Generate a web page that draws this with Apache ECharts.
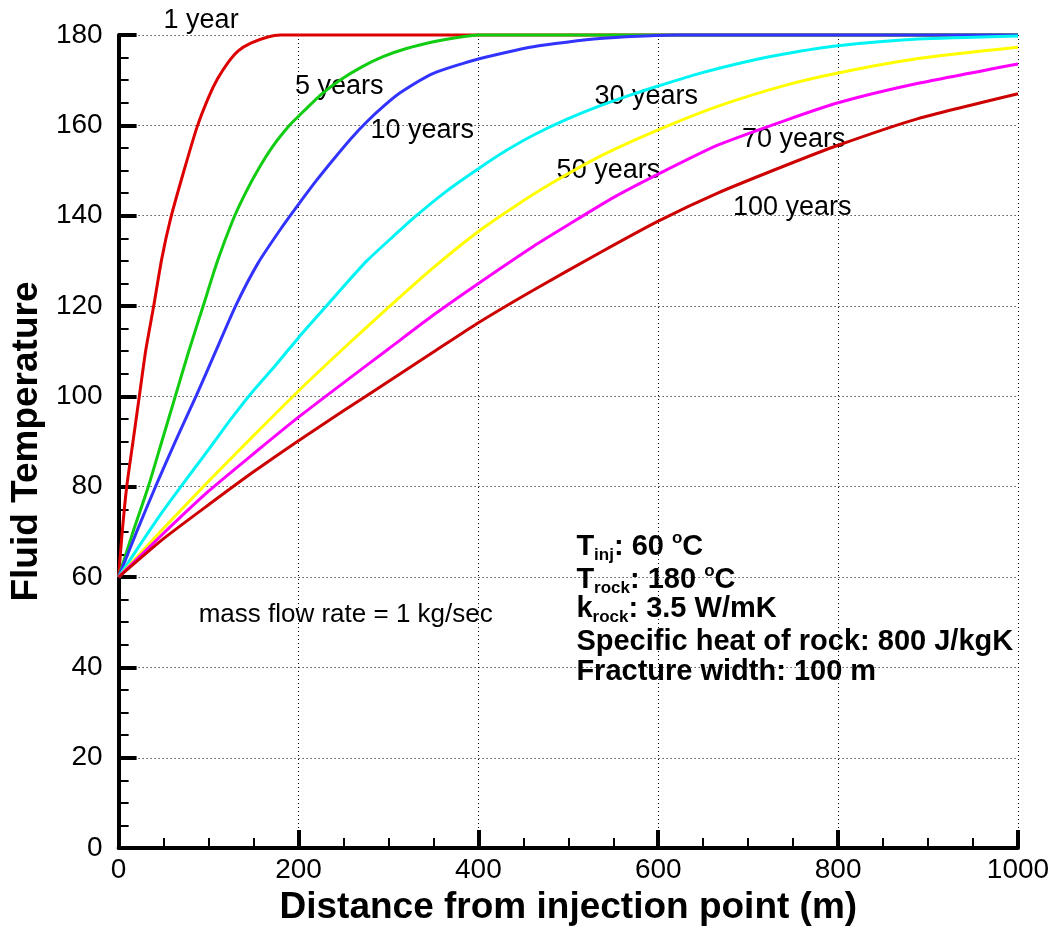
<!DOCTYPE html>
<html>
<head>
<meta charset="utf-8">
<title>Fluid temperature vs distance</title>
<script src="https://cdn.jsdelivr.net/npm/echarts@6/dist/echarts.min.js"></script>
<style>
  html, body { margin: 0; padding: 0; background: #fff; }
  #main { width: 1054px; height: 931px; }
</style>
</head>
<body>
<div id="main"></div>
<script>
// distance along fracture (m) / fluid temperature (C)
var year1Dist = [0, 4, 9, 16, 23, 30, 39, 48, 58, 72, 87, 100, 110, 122, 133, 147, 165, 180, 300, 1000];
var year1Temp = [60, 70, 80, 90, 100, 110, 120, 130.5, 139.5, 149.5, 159.5, 166.2, 170.3, 174, 176.5, 178.2, 179.5, 180, 180, 180];

var year5Dist = [0, 16, 33, 48, 63, 78, 94, 110, 127, 141, 156, 172, 190, 200, 225, 246, 270, 294, 320, 350, 375, 400, 600, 1000];
var year5Temp = [60, 70, 80, 90, 100, 110, 120, 130, 139, 145, 150.5, 155.5, 160, 162, 166.8, 170, 172.9, 175.2, 177, 178.5, 179.4, 180, 180, 180];

var year10Dist = [0, 20, 41, 63, 86, 108, 130, 155, 180, 200, 220, 239, 258, 276, 295, 313, 350, 400, 461, 535, 620, 800, 1000];
var year10Temp = [60, 70, 80, 90, 100, 110, 120, 129.5, 137, 142.5, 147.8, 152.5, 157, 160.8, 164.3, 167.2, 171.5, 174.7, 177.4, 179.2, 180, 180, 180];

var year30Dist = [0, 25, 50, 74, 100, 125, 147, 175, 200, 231, 253, 276, 303, 331, 365, 400, 430, 461, 498, 535, 572, 600, 646, 700, 740, 800, 889, 1000];
var year30Temp = [60, 67.5, 74.8, 81.3, 88.2, 95, 100.6, 107, 113, 120, 125, 130, 135, 140, 145.5, 150.4, 154.3, 157.8, 161.3, 164.3, 166.9, 168.7, 171.5, 174.2, 175.8, 177.6, 179.1, 179.8];

var year50Dist = [0, 50, 100, 150, 200, 250, 300, 350, 400, 440, 480, 539, 600, 666, 740, 800, 889, 1000];
var year50Temp = [60, 70.8, 81.2, 91.3, 101.2, 110.6, 119.7, 128.5, 136.5, 142, 147, 153.5, 159, 164.2, 168.8, 171.6, 174.8, 177.3];

var year70Dist = [0, 50, 100, 150, 200, 250, 300, 350, 400, 461, 500, 550, 600, 666, 740, 800, 889, 1000];
var year70Temp = [60, 69.7, 79, 87.3, 95.4, 103, 110.5, 118, 125, 133.2, 138, 144, 149.2, 155.6, 161, 165, 169.3, 173.6];

var year100Dist = [0, 50, 100, 150, 200, 250, 300, 350, 400, 461, 535, 600, 666, 740, 800, 889, 1000];
var year100Temp = [60, 68.5, 76, 83.3, 90.2, 96.8, 103.3, 109.8, 116.3, 123.5, 131.8, 138.8, 145, 151, 155.6, 161.5, 167];

var curveNames = ['1 year', '5 years', '10 years', '30 years', '50 years', '70 years', '100 years'];
var curveDists = [year1Dist, year5Dist, year10Dist, year30Dist, year50Dist, year70Dist, year100Dist];
var curveTemps = [year1Temp, year5Temp, year10Temp, year30Temp, year50Temp, year70Temp, year100Temp];
var curveColors = ['#dd0000', '#11cc11', '#3333ff', '#00f4f4', '#ffff00', '#ff00ff', '#cc0000'];

var FONT = '"Liberation Sans", Arial, Helvetica, sans-serif';

function zip(xs, ys) {
    var out = [];
    for (var i = 0; i < xs.length; i++) out.push([xs[i], ys[i]]);
    return out;
}

var chart = echarts.init(document.getElementById('main'), null, { renderer: 'canvas' });

var series = curveNames.map(function (name, i) {
    return {
        name: name,
        type: 'line',
        data: zip(curveDists[i], curveTemps[i]),
        showSymbol: false,
        symbol: 'none',
        smooth: 0.2,
        clip: false,
        lineStyle: { color: curveColors[i], width: 3 },
        itemStyle: { color: curveColors[i] },
        silent: true
    };
});

var dotted = { color: '#000', width: 1, type: [1, 3] };

chart.setOption({
    animation: false,
    backgroundColor: '#fff',
    grid: { left: 118, right: 36, top: 35, bottom: 78 },
    xAxis: {
        type: 'value',
        min: 0, max: 1000, interval: 200,
        name: 'Distance from injection point (m)',
        nameLocation: 'middle',
        nameGap: 40,
        nameTextStyle: { color: '#000', fontSize: 37, fontWeight: 'bold', fontFamily: FONT },
        axisLine: { lineStyle: { color: '#000', width: 4 } },
        axisTick: { inside: true, length: 18, lineStyle: { color: '#000', width: 4 } },
        minorTick: { show: true, splitNumber: 4, length: 10, lineStyle: { color: '#000', width: 2 } },
        splitLine: { show: true, lineStyle: dotted },
        axisLabel: { color: '#000', fontSize: 28, fontFamily: FONT, margin: 8, formatter: function (v) { return String(v); } }
    },
    yAxis: {
        type: 'value',
        min: 0, max: 180, interval: 20,
        name: 'Fluid Temperature',
        nameLocation: 'middle',
        nameGap: 68,
        nameTextStyle: { color: '#000', fontSize: 37, fontWeight: 'bold', fontFamily: FONT },
        axisLine: { lineStyle: { color: '#000', width: 4 } },
        axisTick: { inside: true, length: 18, lineStyle: { color: '#000', width: 4 } },
        minorTick: { show: true, splitNumber: 4, length: 10, lineStyle: { color: '#000', width: 2 } },
        splitLine: { show: true, lineStyle: dotted },
        axisLabel: { color: '#000', fontSize: 28, fontFamily: FONT, margin: 16 }
    },
    series: series
});

// annotations, anchored at data coordinates (distance, temperature) -> left-middle of the text
var curveLabelAt = [[50, 183.3], [196, 168.6], [280, 158.9], [529, 166.4], [487, 150.1], [693, 156.9], [683, 141.7]];
var noteAt = [89, 51.7];
var paramsAt = [509, [66.7, 59.4, 53.0, 45.6, 39.0]];

var paramLines = [
    '{b|T}{sub|inj}{b|: 60 }{sup|o}{b|C}',
    '{b|T}{sub|rock}{b|: 180 }{sup|o}{b|C}',
    '{b|k}{sub|rock}{b|: 3.5 W/mK}',
    '{b|Specific heat of rock: 800 J/kgK}',
    '{b|Fracture width: 100 m}'
];

function px(p) { return chart.convertToPixel({ gridIndex: 0 }, p); }

var graphics = [];
curveNames.forEach(function (name, i) {
    var p = px(curveLabelAt[i]);
    graphics.push({
        type: 'text', x: p[0], y: p[1], silent: true,
        style: { text: name, fill: '#000', font: '27px ' + FONT, textAlign: 'left', textVerticalAlign: 'middle' }
    });
});

var n = px(noteAt);
graphics.push({
    type: 'text', x: n[0], y: n[1], silent: true,
    style: { text: 'mass flow rate = 1 kg/sec', fill: '#000', font: '26px ' + FONT, textAlign: 'left', textVerticalAlign: 'middle' }
});

paramLines.forEach(function (line, i) {
    var p = px([paramsAt[0], paramsAt[1][i]]);
    graphics.push({
        type: 'text', x: p[0], y: p[1], silent: true,
        style: {
            text: line,
            textAlign: 'left',
            textVerticalAlign: 'middle',
            rich: {
                b: { fontSize: 29, fontWeight: 'bold', fontFamily: FONT, fill: '#000', lineHeight: 34 },
                sub: { fontSize: 17, fontWeight: 'bold', fontFamily: FONT, fill: '#000', lineHeight: 17, verticalAlign: 'bottom' },
                sup: { fontSize: 17, fontWeight: 'bold', fontFamily: FONT, fill: '#000', lineHeight: 17, verticalAlign: 'top' }
            }
        }
    });
});

chart.setOption({ graphic: graphics });
</script>
</body>
</html>
